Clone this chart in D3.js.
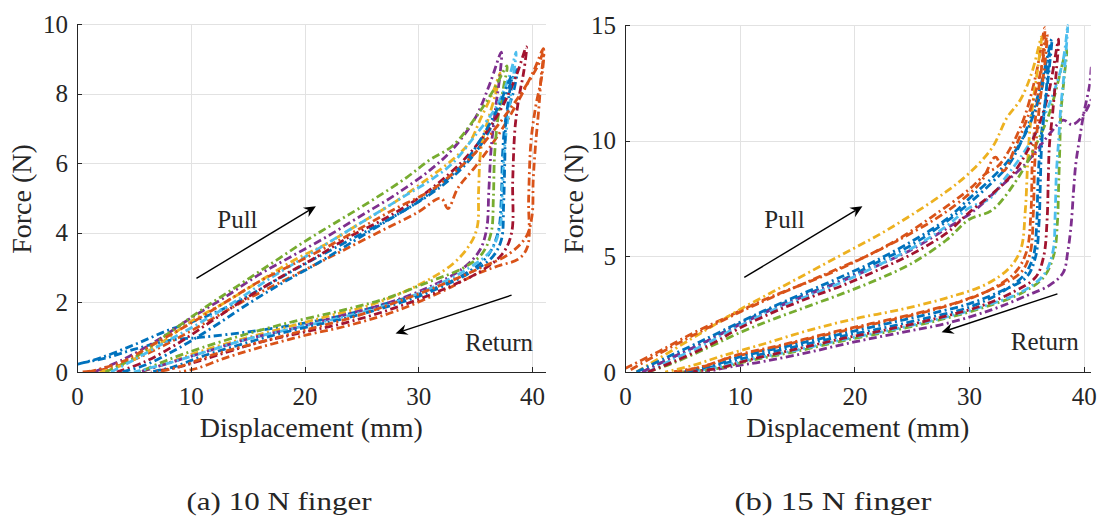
<!DOCTYPE html>
<html>
<head>
<meta charset="utf-8">
<script src="https://cdn.jsdelivr.net/npm/d3@7"></script>
<style>
body { margin: 0; background: #fff; }
svg text { font-family: "Liberation Serif", Tinos, "Times New Roman", Times, "Nimbus Roman", "FreeSerif", serif; fill: #262626; }
.grid line { stroke: #e2e2e2; stroke-width: 1; shape-rendering: crispEdges; }
.axis path, .axis line { stroke: #262626; stroke-width: 1; shape-rendering: crispEdges; }
.axis text { font-size: 25px; font-family: "Liberation Serif", Tinos, "Times New Roman", Times, serif; }
.curve { fill: none; stroke-width: 2.8; stroke-dasharray: 8,3.5,2,3.5; stroke-linejoin: round; }
.arrow { stroke: #000; stroke-width: 1.4; fill: none; }
.head { fill: #000; stroke: none; }
</style>
</head>
<body>
<script>

// MATLAB default colour order, one per test run
var runColors = ["#0072BD", "#D95319", "#EDB120", "#7E2F8E", "#77AC30", "#4DBEEE", "#A2142F", "#0072BD", "#D95319"];

// ---- (a) 10 N finger: pull branch then return branch, per run ----
var leftPullX = [
    [0, 2, 5, 8, 11, 14, 17, 20, 24, 28, 31, 33, 35, 36.5, 37.6, 38.7],
    [0.5, 3, 6, 9, 12, 15, 18, 21, 24, 27, 30, 32, 32.6, 33.5, 35, 37, 38.8, 40.2, 41],
    [2, 4, 7, 10, 13, 16, 19, 22, 25, 28, 31, 33, 34.5, 35.5, 36.5, 37.2],
    [1.5, 4, 7, 10, 13, 16, 19, 22, 25, 28, 31, 33, 35, 36.3, 37.3],
    [2.5, 5, 8, 11, 14, 17, 20, 23, 26, 29, 31, 33, 35, 36.6, 37.8],
    [3, 5, 8, 11, 14, 17, 20, 23, 26, 29, 31, 33, 35, 36.8, 38.0, 38.6],
    [3.5, 6, 9, 12, 15, 18, 21, 24, 27, 30, 32, 34, 36, 37.5, 38.7, 39.5],
    [4, 6, 9, 12, 15, 18, 21, 24, 27, 30, 32, 34, 35.5, 37, 38.2],
    [1, 4, 7, 10, 13, 16, 19, 22, 25, 28, 31, 33, 35, 37, 39, 40.5, 41]
];
var leftPullY = [
    [0.22, 0.4, 0.78, 1.2, 1.55, 2.0, 2.55, 3.1, 3.8, 4.5, 5.1, 5.6, 6.3, 7.1, 7.9, 8.7],
    [0, 0.12, 0.5, 1.0, 1.55, 2.1, 2.6, 3.1, 3.6, 4.1, 4.6, 5.0, 4.7, 5.3, 5.9, 6.8, 7.8, 8.7, 9.3],
    [0, 0.2, 0.75, 1.45, 2.0, 2.6, 3.2, 3.7, 4.3, 4.9, 5.6, 6.1, 6.6, 7.3, 8.0, 8.6],
    [0, 0.35, 0.9, 1.55, 2.15, 2.8, 3.35, 3.9, 4.5, 5.1, 5.8, 6.4, 7.3, 8.3, 9.2],
    [0, 0.4, 1.1, 1.8, 2.45, 3.1, 3.75, 4.35, 4.95, 5.6, 6.1, 6.5, 7.3, 8.1, 8.8],
    [0, 0.35, 0.9, 1.45, 2.05, 2.7, 3.3, 3.9, 4.5, 5.1, 5.5, 6.0, 6.8, 7.6, 8.5, 9.2],
    [0, 0.3, 0.85, 1.5, 2.15, 2.75, 3.3, 3.9, 4.4, 5.0, 5.5, 6.1, 6.9, 7.7, 8.6, 9.35],
    [0, 0.2, 0.7, 1.3, 1.95, 2.55, 3.1, 3.7, 4.3, 4.9, 5.4, 6.0, 6.7, 7.6, 8.5],
    [0, 0.3, 0.85, 1.4, 2.0, 2.6, 3.1, 3.6, 4.15, 4.7, 5.2, 5.7, 6.3, 7.1, 8.0, 8.8, 9.2]
];
var leftRetX = [
    [38.4, 37.7, 37.4, 37.3, 37.0, 36.0, 34, 31, 27, 23, 19, 15, 11, 8, 5, 2.5, 0.3],
    [40.9, 40.3, 39.9, 39.7, 39.6, 38.8, 37, 35, 32, 28, 24, 20, 16, 13, 10.5, 9],
    [36.8, 36.0, 35.5, 35.3, 35.2, 34.6, 33, 30, 26, 22, 18, 14, 10, 7.5, 5.5],
    [37.2, 36.8, 36.4, 36.2, 36.0, 35.4, 34, 31, 27, 23, 19, 15, 11, 8, 5.5],
    [37.5, 37.0, 36.7, 36.6, 36.4, 35.6, 34, 31, 27, 23, 19, 15, 11, 8, 5.5],
    [38.4, 38.0, 37.6, 37.4, 37.2, 36.4, 34.5, 31, 27, 23, 19, 15, 11, 8, 5],
    [39.3, 38.8, 38.5, 38.3, 38.2, 37.4, 35.5, 32, 28, 24, 20, 16, 12, 9, 6.5],
    [38.0, 37.7, 37.6, 37.5, 37.3, 36.5, 34.5, 31, 27, 23, 19, 15, 11, 8.5, 6.5],
    [40.8, 40.6, 40.3, 40.1, 40.0, 39.5, 38, 35.5, 32, 28, 24, 20, 16, 12, 9, 7]
];
var leftRetY = [
    [8.1, 7.3, 6.2, 5.0, 4.0, 3.3, 2.8, 2.35, 1.95, 1.6, 1.35, 1.15, 1.0, 0.9, 0.65, 0.4, 0.25],
    [8.6, 7.6, 6.6, 5.0, 3.6, 3.25, 3.05, 2.8, 2.3, 1.75, 1.35, 1.05, 0.7, 0.4, 0.1, 0],
    [8.0, 7.1, 6.4, 5.2, 4.2, 3.7, 3.1, 2.5, 1.95, 1.6, 1.25, 0.9, 0.5, 0.2, 0],
    [8.6, 7.6, 6.4, 5.2, 4.1, 3.5, 3.0, 2.45, 1.95, 1.6, 1.25, 0.95, 0.55, 0.25, 0],
    [8.2, 7.3, 6.2, 5.0, 4.0, 3.4, 3.0, 2.6, 2.1, 1.75, 1.45, 1.1, 0.7, 0.35, 0],
    [8.6, 7.6, 6.5, 5.3, 4.2, 3.5, 3.0, 2.4, 1.9, 1.55, 1.25, 0.95, 0.55, 0.25, 0],
    [8.7, 7.8, 7.0, 5.5, 4.0, 3.4, 2.9, 2.35, 1.85, 1.45, 1.15, 0.85, 0.45, 0.15, 0],
    [8.0, 7.2, 6.0, 4.8, 3.8, 3.3, 2.85, 2.3, 1.85, 1.5, 1.2, 0.85, 0.45, 0.15, 0],
    [8.5, 7.6, 6.5, 5.5, 4.5, 3.9, 3.4, 3.0, 2.5, 2.0, 1.55, 1.2, 0.85, 0.5, 0.15, 0]
];

// ---- (b) 15 N finger ----
var rightPullX = [
    [1.5, 4, 7, 10, 13, 16, 19, 22, 25, 28, 30, 32, 33.5, 35, 36.2, 37.2],
    [0, 3, 6, 9, 12, 15, 18, 21, 24, 27, 30, 31.5, 32.5, 33.5, 34.8, 35.8, 36.6],
    [1, 4, 7, 10, 13, 16, 19, 22, 25, 28, 30, 32, 33.3, 34.5, 35.5, 36.3],
    [1.5, 4, 7, 10, 13, 16, 19, 22, 25, 28, 30.5, 32.7, 35, 37.1, 38.2, 39, 40.2, 40.9, 40.7],
    [2, 4, 7, 10, 13, 16, 19, 22, 25, 28, 30, 32, 34, 35.5, 37, 38.5],
    [2, 4, 7, 10, 13, 16, 19, 22, 25, 28, 30, 31.8, 33, 34.5, 36, 37.3, 38.2, 38.6],
    [2, 4.5, 7.5, 10, 13, 16, 19, 22, 25, 28, 30, 32, 34, 35.5, 36.8, 37.8],
    [1, 3.5, 6.5, 10, 13, 16, 19, 22, 25, 28, 30, 32, 33.5, 35, 36.2, 37.0],
    [0.5, 3, 6, 9, 12, 15, 18, 21, 24, 27, 29, 31, 32.3, 33, 34, 35.3, 36.2, 36.8]
];
var rightPullY = [
    [0, 0.6, 1.3, 2.1, 2.8, 3.4, 4.0, 4.75, 5.5, 6.5, 7.3, 8.2, 9.0, 10.5, 12.3, 14.4],
    [0.15, 0.9, 1.7, 2.4, 3.1, 3.7, 4.3, 5.0, 5.8, 6.8, 7.9, 8.6, 8.9, 9.6, 11.0, 12.8, 14.9],
    [0, 0.9, 1.8, 2.7, 3.5, 4.3, 5.1, 5.9, 6.8, 7.8, 8.6, 9.7, 11.0, 11.8, 13.0, 14.5],
    [0, 0.6, 1.3, 2.05, 2.75, 3.35, 3.95, 4.6, 5.3, 6.2, 7.0, 8.0, 9.05, 10.35, 10.9, 10.7, 11.3, 12.4, 13.3],
    [0, 0.35, 1.0, 1.7, 2.3, 2.85, 3.4, 4.0, 4.7, 5.7, 6.6, 7.0, 8.2, 9.5, 11.2, 13.95],
    [0, 0.5, 1.2, 2.0, 2.7, 3.3, 3.9, 4.6, 5.35, 6.3, 7.1, 7.5, 8.3, 9.3, 10.5, 12.0, 13.5, 15],
    [0, 0.5, 1.2, 1.9, 2.6, 3.2, 3.75, 4.4, 5.1, 6.0, 6.9, 7.7, 8.7, 10.0, 11.8, 14.4],
    [0, 0.6, 1.3, 2.15, 2.85, 3.5, 4.15, 4.85, 5.65, 6.6, 7.5, 8.4, 9.2, 10.4, 12.0, 13.8],
    [0.1, 0.8, 1.6, 2.35, 3.05, 3.7, 4.35, 5.0, 5.75, 6.6, 7.3, 8.2, 9.3, 8.7, 9.7, 11.3, 12.9, 14.6]
];
var rightRetX = [
    [37.0, 36.6, 36.2, 36.0, 35.9, 35.6, 34.8, 33, 30, 26, 22, 18, 14, 10, 7, 4.5],
    [36.4, 36.0, 35.7, 35.5, 35.4, 35.0, 34, 32, 29, 25, 21, 17, 13, 9, 6.5, 4],
    [36.0, 35.6, 35.3, 35.1, 34.9, 34.5, 33.5, 31.5, 28, 24, 20, 16, 12, 8.5, 6, 3.5],
    [40.5, 40.0, 39.6, 39.3, 39.1, 38.9, 38.6, 38.2, 37, 35, 32, 28, 24, 20, 16, 12, 9.5, 7],
    [38.3, 38.0, 37.9, 37.8, 37.7, 37.4, 36.5, 34.5, 31, 27, 23, 19, 15, 11, 8, 5],
    [38.3, 38.0, 37.8, 37.6, 37.5, 37.3, 36.5, 34.5, 31, 27, 23, 19, 15, 11, 8, 5.5],
    [37.6, 37.3, 37.0, 36.9, 36.8, 36.5, 35.8, 34, 31, 27, 23, 19, 15, 11, 8, 5],
    [36.8, 36.5, 36.3, 36.2, 36.1, 35.8, 35, 33, 30, 26, 22, 18, 14, 10, 7.5, 5],
    [36.6, 36.2, 35.9, 35.7, 35.6, 35.3, 34.5, 32.5, 29.5, 25.5, 21.5, 17.5, 13.5, 9.5, 7, 4.5]
];
var rightRetY = [
    [13.2, 11.5, 9.8, 8.2, 6.5, 5.0, 4.2, 3.5, 2.8, 2.3, 1.85, 1.45, 1.0, 0.55, 0.15, 0],
    [13.5, 12.0, 10.5, 9.0, 7.0, 5.2, 4.3, 3.6, 3.0, 2.45, 2.0, 1.55, 1.05, 0.6, 0.2, 0],
    [13.2, 11.8, 10.5, 9.0, 7.0, 5.3, 4.5, 3.8, 3.2, 2.7, 2.3, 1.8, 1.2, 0.7, 0.3, 0],
    [12.4, 11.2, 10.0, 9.0, 7.8, 6.4, 5.2, 4.3, 3.75, 3.3, 2.7, 2.1, 1.7, 1.3, 0.85, 0.45, 0.25, 0],
    [12.8, 11.2, 9.6, 8.0, 6.5, 5.1, 4.1, 3.4, 2.75, 2.2, 1.75, 1.35, 0.9, 0.5, 0.15, 0],
    [13.0, 11.5, 10.0, 8.5, 6.8, 5.2, 4.2, 3.45, 2.8, 2.25, 1.8, 1.4, 0.95, 0.55, 0.2, 0],
    [13.0, 11.3, 9.8, 8.3, 6.6, 5.0, 4.1, 3.5, 2.85, 2.3, 1.85, 1.45, 1.0, 0.55, 0.15, 0],
    [12.6, 11.0, 9.6, 8.0, 6.5, 5.0, 4.1, 3.55, 2.95, 2.45, 2.0, 1.55, 1.1, 0.65, 0.25, 0],
    [13.3, 11.8, 10.3, 8.8, 6.9, 5.1, 4.3, 3.7, 3.1, 2.55, 2.1, 1.65, 1.15, 0.7, 0.25, 0]
];

// axes ticks and text
var xTicks = [0, 10, 20, 30, 40];
var leftYTicks = [0, 2, 4, 6, 8, 10];
var rightYTicks = [0, 5, 10, 15];
var xLabel = "Displacement (mm)";
var yLabel = "Force (N)";
var captions = ["(a) 10 N finger", "(b) 15 N finger"];

// annotation arrows [x0, y0, x1, y1] in data units, labels [x, y, text]
var leftArrows = [[10.5, 2.69, 21.0, 4.77], [38.2, 2.21, 28.0, 1.11]];
var leftNotes = [[14.1, 4.14, "Pull"], [37.1, 0.6, "Return"]];
var rightArrows = [[10.4, 4.09, 20.7, 7.17], [37.7, 3.38, 27.6, 1.72]];
var rightNotes = [[13.9, 6.24, "Pull"], [36.6, 0.95, "Return"]];

var W = 1101, H = 517;

var svg = d3.select("body").append("svg")
    .attr("width", W)
    .attr("height", H);

svg.append("rect").attr("width", W).attr("height", H).attr("fill", "#fff");

var panels = [
    { id: "a", left: 77, right: 545.7, top: 24.3, bottom: 372, xMax: 41.2, yMax: 10, yTicks: leftYTicks,
      pullX: leftPullX, pullY: leftPullY, retX: leftRetX, retY: leftRetY,
      arrows: leftArrows, notes: leftNotes, yLabelX: 31, capX: 279, capLen: 185 },
    { id: "b", left: 625, right: 1090.7, top: 25.3, bottom: 372, xMax: 40.6, yMax: 15, yTicks: rightYTicks,
      pullX: rightPullX, pullY: rightPullY, retX: rightRetX, retY: rightRetY,
      arrows: rightArrows, notes: rightNotes, yLabelX: 583, capX: 833, capLen: 197 }
];

panels.forEach(function(p, pi) {
    var x = d3.scaleLinear().domain([0, p.xMax]).range([p.left, p.right]);
    var y = d3.scaleLinear().domain([0, p.yMax]).range([p.bottom, p.top]);

    var g = svg.append("g");

    // grid
    var grid = g.append("g").attr("class", "grid");
    grid.selectAll(".gx").data(xTicks).enter().append("line")
        .attr("x1", function(d) { return Math.round(x(d)) + 0.5; })
        .attr("x2", function(d) { return Math.round(x(d)) + 0.5; })
        .attr("y1", p.top).attr("y2", p.bottom);
    grid.selectAll(".gy").data(p.yTicks).enter().append("line")
        .attr("y1", function(d) { return Math.round(y(d)) + 0.5; })
        .attr("y2", function(d) { return Math.round(y(d)) + 0.5; })
        .attr("x1", p.left).attr("x2", p.right);

    // curves
    g.append("clipPath").attr("id", "clip-" + p.id)
        .append("rect")
        .attr("x", p.left).attr("y", p.top - 1)
        .attr("width", p.right - p.left).attr("height", p.bottom - p.top + 1);

    var line = d3.line()
        .x(function(d) { return x(d[0]); })
        .y(function(d) { return y(d[1]); })
        .curve(d3.curveCatmullRom.alpha(0.5));

    var runs = p.pullX.map(function(px, i) {
        return d3.zip(px.concat(p.retX[i]), p.pullY[i].concat(p.retY[i]));
    });

    g.append("g").attr("clip-path", "url(#clip-" + p.id + ")")
        .selectAll("path").data(runs).enter().append("path")
        .attr("class", "curve")
        .attr("stroke", function(d, i) { return runColors[i]; })
        .attr("d", line);

    // axes, ticks pointing inwards
    g.append("g").attr("class", "axis")
        .attr("transform", "translate(0," + p.bottom + ")")
        .call(d3.axisBottom(x).tickValues(xTicks).tickSizeInner(-5).tickSizeOuter(0).tickPadding(15));
    g.append("g").attr("class", "axis")
        .attr("transform", "translate(" + p.left + ",0)")
        .call(d3.axisLeft(y).tickValues(p.yTicks).tickSizeInner(-5).tickSizeOuter(0).tickPadding(9));
    g.selectAll(".axis").attr("font-family", null).attr("font-size", null);
    g.selectAll(".axis text").attr("fill", "#262626");

    // axis labels
    g.append("text")
        .attr("x", (p.left + p.right) / 2).attr("y", 437)
        .attr("text-anchor", "middle")
        .style("font-size", "28px")
        .text(xLabel);
    g.append("text")
        .attr("transform", "translate(" + p.yLabelX + "," + 199 + ") rotate(-90)")
        .attr("text-anchor", "middle")
        .style("font-size", "28px")
        .text(yLabel);

    // caption
    g.append("text")
        .attr("x", p.capX).attr("y", 510)
        .attr("text-anchor", "middle")
        .attr("textLength", p.capLen)
        .attr("lengthAdjust", "spacingAndGlyphs")
        .style("font-size", "25px")
        .text(captions[pi]);

    // annotation arrows
    p.arrows.forEach(function(a) {
        var x0 = x(a[0]), y0 = y(a[1]), x1 = x(a[2]), y1 = y(a[3]);
        var ang = Math.atan2(y1 - y0, x1 - x0);
        var L = 12, hw = 5.5, back = 8;
        var ux = Math.cos(ang), uy = Math.sin(ang);
        g.append("line").attr("class", "arrow")
            .attr("x1", x0).attr("y1", y0)
            .attr("x2", x1 - ux * back).attr("y2", y1 - uy * back);
        var bx = x1 - ux * L, by = y1 - uy * L;
        var nx = x1 - ux * back, ny = y1 - uy * back;
        g.append("path").attr("class", "head")
            .attr("d", "M" + x1 + "," + y1 +
                "L" + (bx - uy * hw) + "," + (by + ux * hw) +
                "L" + nx + "," + ny +
                "L" + (bx + uy * hw) + "," + (by - ux * hw) + "Z");
    });

    p.notes.forEach(function(n) {
        g.append("text")
            .attr("x", x(n[0])).attr("y", y(n[1]))
            .attr("text-anchor", "middle")
            .style("font-size", "25px")
            .attr("fill", "#000")
            .text(n[2]);
    });
});

</script>
</body>
</html>
